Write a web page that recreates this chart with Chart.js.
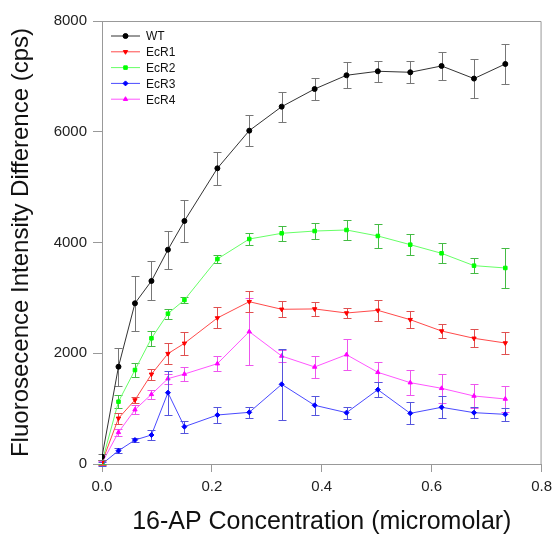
<!DOCTYPE html>
<html lang="en">
<head>
<meta charset="UTF-8">
<title>16-AP binding</title>
<script src="https://cdn.jsdelivr.net/npm/chart.js"></script>
<style>
    body { margin: 0; background: #fff; }
    canvas { display: block; }
</style>
</head>
<body>
<canvas id="bindingChart" width="558" height="537"></canvas>
<script>
// concentration of 16-AP (micromolar)
const conc = [0, 0.03, 0.06, 0.09, 0.12, 0.15, 0.21, 0.268, 0.327, 0.387, 0.445, 0.502, 0.561, 0.618, 0.677, 0.734];

// fluorescence intensity difference (cps) and standard errors
const wt     = [130, 1757, 2902, 3305, 3870, 4389, 5340, 6020, 6453, 6772, 7020, 7092, 7074, 7188, 6960, 7224];
const wtErr  = [50, 343, 500, 352, 340, 380, 301, 283, 271, 190, 238, 193, 200, 247, 350, 361];
const ecr1    = [30, 825, 1156, 1620, 1993, 2179, 2637, 2931, 2794, 2800, 2727, 2775, 2606, 2402, 2270, 2185];
const ecr1Err = [40, 100, 60, 100, 190, 210, 190, 190, 145, 120, 95, 190, 155, 130, 160, 200];
const ecr2    = [40, 1125, 1697, 2270, 2715, 2962, 3702, 4063, 4166, 4207, 4226, 4118, 3961, 3805, 3582, 3540];
const ecr2Err = [40, 120, 120, 135, 90, 50, 70, 100, 140, 150, 175, 210, 190, 180, 135, 367];
const ecr3    = [0, 240, 433, 524, 1288, 674, 885, 933, 1439, 1060, 927, 1342, 915, 1024, 927, 897];
const ecr3Err = [30, 40, 40, 90, 400, 110, 140, 105, 640, 175, 110, 135, 200, 200, 95, 120];
const ecr4    = [20, 572, 981, 1258, 1541, 1625, 1812, 2390, 1950, 1752, 1974, 1656, 1469, 1367, 1228, 1174];
const ecr4Err = [40, 60, 85, 80, 90, 135, 135, 608, 100, 200, 283, 178, 225, 262, 225, 235];

const xTicks = [0, 0.2, 0.4, 0.6, 0.8];
const yTicks = [0, 2000, 4000, 6000, 8000];

const FONT = 'Liberation Sans, Arial, sans-serif';

function series(label, values, errors, color, lineColor, errColor, style, rotation) {
    return {
        label: label,
        data: conc.map((c, i) => ({ x: c, y: values[i] })),
        errors: errors,
        errColor: errColor,
        showLine: true,
        borderColor: lineColor,
        borderWidth: 1,
        backgroundColor: color,
        pointBackgroundColor: color,
        pointBorderColor: color,
        pointStyle: style,
        pointRotation: rotation || 0,
        pointRadius: 2.5,
        pointBorderWidth: 1,
        tension: 0
    };
}

// vertical error bars with caps, drawn under each series
const errorBars = {
    id: 'errorBars',
    beforeDatasetDraw(chart, args) {
        const ds = chart.data.datasets[args.index];
        const ys = chart.scales.y;
        const ctx = chart.ctx;
        ctx.save();
        ctx.strokeStyle = ds.errColor;
        ctx.lineWidth = 1;
        args.meta.data.forEach((pt, i) => {
            const v = ds.data[i].y, e = ds.errors[i];
            const top = Math.round(ys.getPixelForValue(v + e)) + 0.5;
            const bot = Math.round(ys.getPixelForValue(v - e)) + 0.5;
            const x = Math.round(pt.x) + 0.5;
            ctx.beginPath();
            ctx.moveTo(x, top); ctx.lineTo(x, bot);
            ctx.moveTo(x - 4, top); ctx.lineTo(x + 4, top);
            ctx.moveTo(x - 4, bot); ctx.lineTo(x + 4, bot);
            ctx.stroke();
        });
        ctx.restore();
    }
};

// box round the plot plus the legend in its upper-left corner
const frameAndKey = {
    id: 'frameAndKey',
    afterDraw(chart) {
        const ctx = chart.ctx;
        const a = chart.chartArea;
        ctx.save();
        ctx.strokeStyle = '#999';
        ctx.lineWidth = 1;
        ctx.beginPath();
        ctx.moveTo(a.left, a.top + 0.5);
        ctx.lineTo(a.right - 0.5, a.top + 0.5);
        ctx.lineTo(a.right - 0.5, a.bottom);
        ctx.stroke();

        ctx.font = '12px ' + FONT;
        ctx.textBaseline = 'middle';
        chart.data.datasets.forEach((ds, i) => {
            const y = a.top + 15 + i * 15.8;
            const x0 = a.left + 9, x1 = a.left + 38;
            ctx.strokeStyle = ds.borderColor;
            ctx.beginPath();
            ctx.moveTo(x0, y); ctx.lineTo(x1, y);
            ctx.stroke();
            ctx.fillStyle = ds.pointBackgroundColor;
            ctx.strokeStyle = ds.pointBorderColor;
            Chart.helpers.drawPoint(ctx, {
                pointStyle: ds.pointStyle,
                rotation: ds.pointRotation,
                radius: ds.pointRadius,
                borderWidth: 1
            }, (x0 + x1) / 2, y);
            ctx.fillStyle = '#111';
            ctx.fillText(ds.label, a.left + 44, y + 1);
        });
        ctx.restore();
    }
};

new Chart(document.getElementById('bindingChart'), {
    type: 'scatter',
    data: {
        datasets: [
            series('WT', wt, wtErr, '#000', '#333', '#777', 'circle'),
            series('EcR1', ecr1, ecr1Err, '#f00', '#ff4a4a', '#e05050', 'triangle', 180),
            series('EcR2', ecr2, ecr2Err, '#0f0', '#66ff66', '#44bb44', 'rect'),
            series('EcR3', ecr3, ecr3Err, '#00f', '#4a4aff', '#5555dd', 'rectRot'),
            series('EcR4', ecr4, ecr4Err, '#f0f', '#ff55ff', '#ee55ee', 'triangle')
        ]
    },
    options: {
        responsive: false,
        animation: false,
        layout: { padding: { left: 0, top: 21, right: 14, bottom: 0 } },
        plugins: { legend: { display: false }, tooltip: { enabled: false } },
        scales: {
            x: {
                type: 'linear', min: 0, max: 0.8,
                afterBuildTicks: s => { s.ticks = xTicks.map(v => ({ value: v })); },
                afterFit: s => { s.height = 73; },
                ticks: { color: '#222', font: { family: FONT, size: 15 }, padding: 6, callback: v => v.toFixed(1) },
                grid: { drawOnChartArea: false, color: '#999', tickLength: 8 },
                border: { color: '#999' },
                title: { display: true, text: '16-AP Concentration (micromolar)', color: '#111',
                         font: { family: FONT, size: 25 }, padding: { top: 4, bottom: 0 } }
            },
            y: {
                min: 0, max: 8000,
                afterBuildTicks: s => { s.ticks = yTicks.map(v => ({ value: v })); },
                afterFit: s => { s.width = 102; },
                ticks: { color: '#222', font: { family: FONT, size: 15 }, padding: 6, callback: v => String(v) },
                grid: { drawOnChartArea: false, color: '#999', tickLength: 9 },
                border: { color: '#999' },
                title: { display: true, text: 'Fluorosecence Intensity Difference (cps)', color: '#111',
                         font: { family: FONT, size: 24 }, padding: { top: 7, bottom: 4 } }
            }
        }
    },
    plugins: [errorBars, frameAndKey]
});
</script>
</body>
</html>
